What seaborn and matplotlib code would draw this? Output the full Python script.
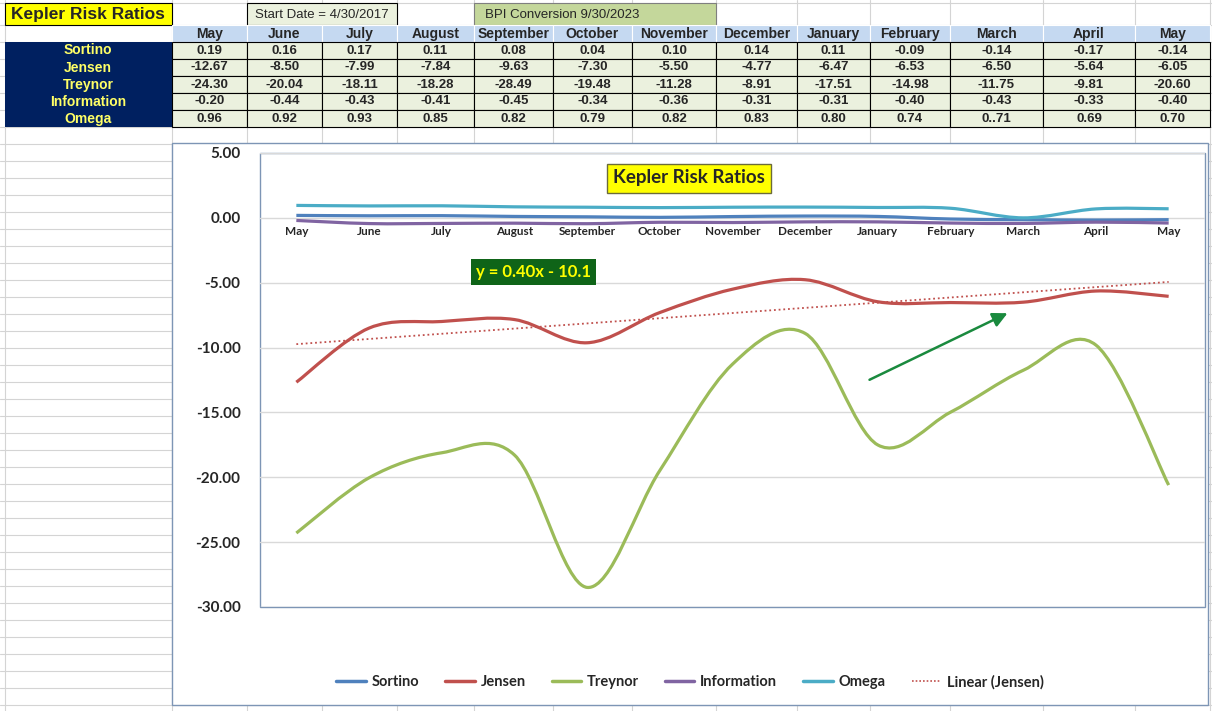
# Kepler risk ratios: spreadsheet table plus smoothed line chart (Excel look)

import numpy as np
import pandas as pd
import seaborn as sns
import matplotlib.pyplot as plt
from matplotlib.path import Path
from matplotlib.patches import Rectangle, PathPatch
from matplotlib.lines import Line2D

# ---- data ----
months = ['May', 'June', 'July', 'August', 'September', 'October', 'November',
          'December', 'January', 'February', 'March', 'April', 'May']
series_names = ['Sortino', 'Jensen', 'Treynor', 'Information', 'Omega']
sortino = [0.19, 0.16, 0.17, 0.11, 0.08, 0.04, 0.10, 0.14, 0.11, -0.09, -0.14, -0.17, -0.14]
jensen = [-12.67, -8.50, -7.99, -7.84, -9.63, -7.30, -5.50, -4.77, -6.47, -6.53, -6.50, -5.64, -6.05]
treynor = [-24.30, -20.04, -18.11, -18.28, -28.49, -19.48, -11.28, -8.91, -17.51, -14.98, -11.75, -9.81, -20.60]
information = [-0.20, -0.44, -0.43, -0.41, -0.45, -0.34, -0.36, -0.31, -0.31, -0.40, -0.43, -0.33, -0.40]
# the March cell holds the text "0..71", which the chart plots as 0
omega = [0.96, 0.92, 0.93, 0.85, 0.82, 0.79, 0.82, 0.83, 0.80, 0.74, 0.0, 0.69, 0.70]
omega_bad_cell = (10, '0..71')

colors = ['#4f81bd', '#c0504d', '#9bbb59', '#8064a2', '#4bacc6']

df = pd.DataFrame({'Sortino': sortino, 'Jensen': jensen, 'Treynor': treynor,
                   'Information': information, 'Omega': omega})
df['idx'] = np.arange(len(months))

sns.set_style("white")
plt.rcParams['font.family'] = ['Lato', 'DejaVu Sans']
narrow = ['Liberation Sans Narrow', 'Liberation Sans', 'DejaVu Sans']

W, H = 1212, 711
fig = plt.figure(figsize=(W / 100, H / 100), dpi=100)


def fx(x):
    return x / W


def fy(y):
    return 1 - y / H


# ---- background sheet, in pixel coordinates ----
bg = fig.add_axes([0, 0, 1, 1])
bg.set_xlim(0, W)
bg.set_ylim(H, 0)
bg.axis('off')

col_edges = [5, 172, 247, 322, 397, 474, 553, 632, 716, 797, 870, 950, 1043, 1135, 1210]
row_edges = [3, 25] + list(range(42, H + 17, 17))
for x in col_edges:
    bg.plot([x, x], [0, H], color='#d4d4d4', lw=0.8, zorder=0)
for y in row_edges:
    bg.plot([0, W], [y, y], color='#d4d4d4', lw=0.8, zorder=0)

# title cells
bg.add_patch(Rectangle((5, 3), 167, 22, facecolor='#ffff00', edgecolor='black', lw=0.8, zorder=2))
bg.text(88, 14.5, 'Kepler Risk Ratios', ha='center', va='center', fontsize=12.5,
        fontweight='bold', family=narrow, zorder=3)
bg.add_patch(Rectangle((247, 3), 150, 22, facecolor='#ebf1de', edgecolor='black', lw=0.8, zorder=2))
bg.text(322, 14.5, 'Start Date = 4/30/2017', ha='center', va='center', fontsize=9.5,
        family=narrow, zorder=3)
bg.add_patch(Rectangle((474, 3), 242, 22, facecolor='#c4d79b', edgecolor='#7f7f7f', lw=0.8, zorder=2))
bg.text(562, 14.5, 'BPI Conversion 9/30/2023', ha='center', va='center', fontsize=9.5,
        family=narrow, zorder=3)

# month header row
for c, m in enumerate(months):
    x0, x1 = col_edges[c + 1], col_edges[c + 2]
    bg.add_patch(Rectangle((x0, 25), x1 - x0, 17, facecolor='#c5d9f1', edgecolor='white', lw=0.8, zorder=2))
    bg.text((x0 + x1) / 2, 34, m, ha='center', va='center', fontsize=10,
            fontweight='bold', family=narrow, zorder=3)

# label column and value cells
bg.add_patch(Rectangle((5, 42), 167, 85, facecolor='#002060', edgecolor='none', zorder=2))
for r, name in enumerate(series_names):
    yc = 42 + 17 * r + 8.5
    bg.text(88, yc, name, ha='center', va='center', fontsize=10, fontweight='bold',
            color='#ffff66', family=narrow, zorder=3)
    vals = df[name].tolist()
    for c, v in enumerate(vals):
        x0, x1 = col_edges[c + 1], col_edges[c + 2]
        bg.add_patch(Rectangle((x0, 42 + 17 * r), x1 - x0, 17, facecolor='#ebf1de',
                               edgecolor='black', lw=0.8, zorder=2))
        txt = f'{v:.2f}'
        if name == 'Omega' and c == omega_bad_cell[0]:
            txt = omega_bad_cell[1]
        bg.text((x0 + x1) / 2, yc, txt, ha='center', va='center', fontsize=9.5,
                fontweight='bold', family=narrow, zorder=3)

# chart object frame and plot-area border
bg.add_patch(Rectangle((172, 143), 1036, 562, facecolor='white', edgecolor='#7d95b5', lw=1, zorder=4))
bg.add_patch(Rectangle((260, 153), 945, 454, facecolor='white', edgecolor='#7d95b5', lw=1, zorder=5))

# ---- chart ----
ax = fig.add_axes([fx(260), fy(607), fx(945), 454 / H])
ax.set_facecolor('none')
ax.set_xlim(-0.5, len(months) - 0.5)
ax.set_ylim(-30, 5)
ax.set_yticks(range(-30, 6, 5))
ax.yaxis.set_major_formatter(plt.FuncFormatter(lambda v, p: f'{v:.2f}'))
ax.grid(axis='y', color='#d9d9d9', lw=1)
ax.set_axisbelow(True)
for side in ['left', 'right', 'top']:
    ax.spines[side].set_visible(False)
ax.spines['bottom'].set_position(('data', 0))
ax.spines['bottom'].set_visible(False)
ax.set_xticks(df['idx'])
ax.set_xticklabels(months)
ax.tick_params(axis='x', length=0, pad=6, labelsize=8.5)
ax.tick_params(axis='y', length=0, pad=14, labelsize=11)
for lab in ax.get_xticklabels() + ax.get_yticklabels():
    lab.set_fontweight('bold')


def smooth_path(xs, ys):
    # Excel-style smoothed line: cubic Bezier through the points
    pts = np.column_stack([xs, ys]).astype(float)
    n = len(pts)
    verts = [pts[0]]
    codes = [Path.MOVETO]
    for i in range(n - 1):
        p0 = pts[max(i - 1, 0)]
        p1 = pts[i]
        p2 = pts[i + 1]
        p3 = pts[min(i + 2, n - 1)]
        verts += [p1 + (p2 - p0) / 6, p2 - (p3 - p1) / 6, p2]
        codes += [Path.CURVE4] * 3
    return Path(verts, codes)


for k, (name, col) in enumerate(zip(series_names, colors)):
    ax.add_patch(PathPatch(smooth_path(df['idx'], df[name]), facecolor='none',
                           edgecolor=col, lw=2.3, capstyle='butt', zorder=3 + k))

# linear trend of Jensen
sns.regplot(data=df, x='idx', y='Jensen', scatter=False, ci=None, ax=ax, truncate=True,
            line_kws=dict(color='#c0504d', lw=1.3, ls=(0, (1, 1.6)), zorder=9))
ax.set_xlabel('')
ax.set_ylabel('')

# annotations
fig.text(fx(689), fy(178), 'Kepler Risk Ratios', ha='center', va='center', fontsize=13.5,
         fontweight='bold', zorder=10,
         bbox=dict(boxstyle='square,pad=0.32', facecolor='#ffff00', edgecolor='#6b6b3a', lw=1))
fig.text(fx(533), fy(272), 'y = 0.40x - 10.1', ha='center', va='center', fontsize=12,
         fontweight='bold', color='#ffff00', zorder=10,
         bbox=dict(boxstyle='square,pad=0.3', facecolor='#0f6418', edgecolor='none'))
ax.annotate('', xy=(1010, H - 312), xytext=(867, H - 381), xycoords='figure pixels',
            textcoords='figure pixels', annotation_clip=False,
            arrowprops=dict(arrowstyle='-|>', color='#1a8a3e', lw=1.8, mutation_scale=22))

# legend
handles = [Line2D([], [], color=c, lw=2.5) for c in colors]
handles.append(Line2D([], [], color='#c0504d', lw=1.2, ls=(0, (1, 1.2))))
fig.legend(handles, series_names + ['Linear (Jensen)'], loc='center',
           bbox_to_anchor=(fx(690), fy(682)), ncol=6, frameon=False, handlelength=2.0,
           handletextpad=0.4, columnspacing=1.8, prop=dict(weight='bold', size=10.5))

fig.savefig('out.png', dpi=100)
